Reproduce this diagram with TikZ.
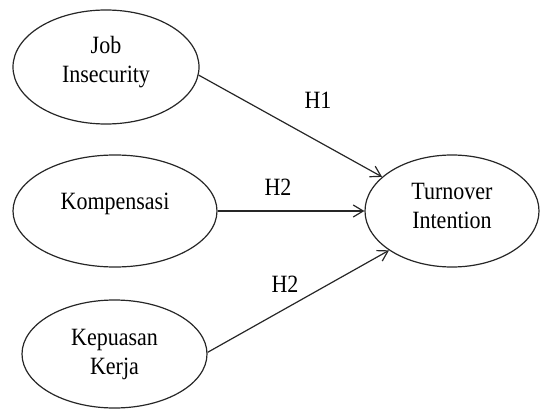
\documentclass[tikz,border=0pt]{standalone}
\usepackage{fontspec}
\setmainfont{Liberation Serif}
\usepackage{graphicx}
\usetikzlibrary{shapes.geometric,arrows.meta}
\newcommand{\tx}[2][0pt]{\raisebox{#1}[\height][\depth]{\scalebox{1}[1.13]{\fontsize{22}{26.5}\selectfont\begin{tabular}{@{}c@{}}#2\end{tabular}}}}
\begin{document}
\begin{tikzpicture}[x=1pt,y=-1pt,
  oval/.style={draw=black!85,line width=1.2pt,ellipse,inner sep=0pt},
  conn/.style={draw=black!85,line width=1.2pt,-{Straight Barb[length=10pt,width=12pt,line width=1.2pt]}},
  hlab/.style={inner sep=0pt}]
\useasboundingbox (0,0) rectangle (540,409);
\node[oval,minimum width=186pt,minimum height=114pt] (ji) at (106,67) {\tx[5pt]{Job\\Insecurity}};
\node[oval,minimum width=204pt,minimum height=112pt] (kp) at (115,211) {\tx[7pt]{Kompensasi}};
\node[oval,minimum width=185pt,minimum height=108pt] (kk) at (114.5,354) {\tx{Kepuasan\\Kerja}};
\node[oval,minimum width=174pt,minimum height=112pt] (ti) at (452,211) {\tx[3pt]{Turnover\\Intention}};
\draw[conn] (ji.-5) -- (ti.154);
\draw[conn] (kp.east) -- (ti.west);
\draw[conn] (kk.1) -- (ti.212);
\node[hlab] (h1) at (318,103) {\tx{H1}};
\node[hlab] (h2a) at (278,190) {\tx{H2}};
\node[hlab] (h2b) at (285,287) {\tx{H2}};
\end{tikzpicture}
\end{document}
